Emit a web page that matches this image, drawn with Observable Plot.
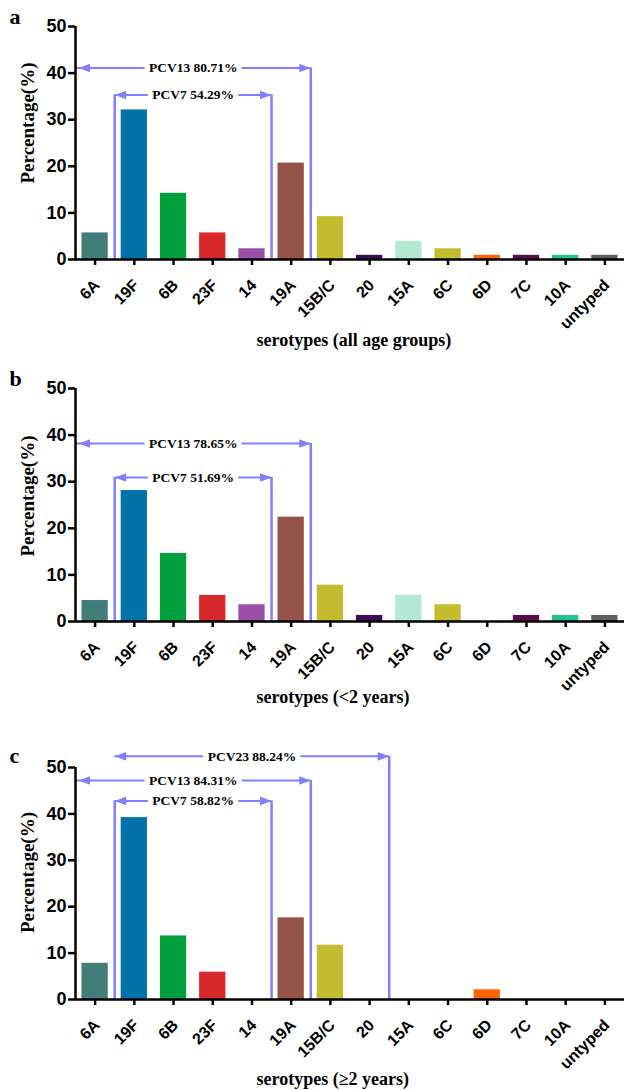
<!DOCTYPE html>
<html><head><meta charset="utf-8">
<script src="https://cdn.jsdelivr.net/npm/d3@7"></script>
<script src="https://cdn.jsdelivr.net/npm/@observablehq/plot@0.6"></script>
<style>body{margin:0;background:#fff} #chart svg{display:block}</style>
</head><body><div id="chart"></div>
<script>
const categories = ["6A","19F","6B","23F","14","19A","15B/C","20","15A","6C","6D","7C","10A","untyped"];
const barColors = ["#427d7a","#0072a9","#00a03e","#d7282b","#9a4fa9","#95534a","#c3bc2e","#3e0a5a","#b4e8d5","#c3bc2e","#ff6400","#5e0a50","#1ec491","#5e5e5e"];
const pctAll    = [5.7, 32.1, 14.2, 5.7, 2.3, 20.7, 9.2, 0.9, 3.9, 2.3, 0.9, 0.9, 0.9, 0.9];
const pctUnder2 = [4.5, 28.1, 14.6, 5.6, 3.6, 22.4, 7.8, 1.3, 5.6, 3.6, 0, 1.3, 1.3, 1.3];
const pctOver2  = [7.8, 39.2, 13.7, 5.9, 0, 17.6, 11.7, 0, 0, 0, 2.1, 0, 0, 0];
const yTicks = [0, 10, 20, 30, 40, 50];

const bracketsAll = [
  {label: "PCV13 80.71%", from: null, to: "19A", level: 41.1},
  {label: "PCV7 54.29%", from: "19F", to: "14", level: 35.3}
];
const bracketsUnder2 = [
  {label: "PCV13 78.65%", from: null, to: "19A", level: 38.2},
  {label: "PCV7 51.69%", from: "19F", to: "14", level: 30.9}
];
const bracketsOver2 = [
  {label: "PCV23 88.24%", from: "19F", to: "20", level: 52.4},
  {label: "PCV13 84.31%", from: null, to: "19A", level: 47.2},
  {label: "PCV7 58.82%", from: "19F", to: "14", level: 42.8}
];

const panels = [
  {letter: "a", values: pctAll, brackets: bracketsAll, xTitle: "serotypes (all age groups)", yTitle: "Percentage(%)",
   height: 360, mt: 26, mb: 101, yTitleDy: -20, letterDy: -3, xTitleDy: 86},
  {letter: "b", values: pctUnder2, brackets: bracketsUnder2, xTitle: "serotypes (<2 years)", yTitle: "Percentage(%)",
   height: 362, mt: 28, mb: 101, yTitleDy: -9, letterDy: -3, xTitleDy: 81},
  {letter: "c", values: pctOver2, brackets: bracketsOver2, xTitle: "serotypes (\u22652 years)", yTitle: "Percentage(%)",
   height: 368, mt: 45, mb: 91, yTitleDy: -11, letterDy: -5, xTitleDy: 85}
];

const serif = "'Times New Roman', 'Liberation Serif', Times, serif";
const sans = "Arial, 'Liberation Sans', Helvetica, sans-serif";
const arrowColor = "#8080ff";
const xDomain = [-0.5, categories.length - 0.5];

const headRight = {draw(ctx) { ctx.moveTo(0, 0); ctx.lineTo(-11.5, -4.3); ctx.lineTo(-11.5, 4.3); ctx.closePath(); }};
const headLeft  = {draw(ctx) { ctx.moveTo(0, 0); ctx.lineTo(11.5, -4.3); ctx.lineTo(11.5, 4.3); ctx.closePath(); }};

function makePanel(p) {
  const bars = categories.map((c, i) => ({cat: c, i, value: p.values[i], color: barColors[i]}));
  const idx = c => categories.indexOf(c);
  const br = p.brackets.map(b => ({...b,
    x1: b.from == null ? xDomain[0] : idx(b.from) - 0.5,
    x2: idx(b.to) + 0.5}));
  const vmap = new Map();
  for (const b of br) {
    for (const x of [b.x1, b.x2]) {
      if (x === xDomain[0]) continue;
      vmap.set(x, Math.min(vmap.has(x) ? vmap.get(x) : Infinity, b.level));
    }
  }
  const verts = [...vmap].map(([x, level]) => ({x, level}));
  const atAxis = br.filter(b => b.x1 === xDomain[0]);
  const inner = br.filter(b => b.x1 !== xDomain[0]);
  const tickIdx = d3.range(categories.length);
  return Plot.plot({
    width: 625, height: p.height, marginTop: p.mt, marginBottom: p.mb, marginLeft: 75, marginRight: 1,
    x: {domain: xDomain, axis: null},
    y: {domain: [0, 50], axis: null},
    color: {type: "identity"},
    style: {fontFamily: sans, fontWeight: "bold", color: "#000", background: "#fff", overflow: "visible"},
    marks: [
      Plot.rectY(bars, {x1: d => d.i - 0.335, x2: d => d.i + 0.335, y: "value", fill: "color"}),
      Plot.ruleX(verts, {x: "x", y1: 0, y2: "level", stroke: arrowColor, strokeWidth: 2.5}),
      Plot.ruleY(br, {y: "level", x1: "x1", x2: "x2", stroke: arrowColor, strokeWidth: 2}),
      Plot.text(br, {x: d => (d.x1 + d.x2) / 2, y: "level", text: "label", fontFamily: serif, fontSize: 13.5,
        fontWeight: "bold", fill: "#000", stroke: "#fff", strokeWidth: 11}),
      Plot.dot(inner, {x: "x1", y: "level", symbol: headLeft, fill: arrowColor}),
      Plot.dot(atAxis, {x: "x1", y: "level", symbol: headLeft, fill: arrowColor, dx: 3}),
      Plot.dot(br, {x: "x2", y: "level", symbol: headRight, fill: arrowColor}),
      Plot.ruleY([0], {stroke: "#000", strokeWidth: 2.5}),
      Plot.ruleX([xDomain[0]], {y1: 0, y2: 50, stroke: "#000", strokeWidth: 2.5}),
      Plot.axisY({ticks: yTicks, tickSize: 7, tickPadding: 2, fontSize: 18, strokeWidth: 2.5, label: null}),
      Plot.axisX({ticks: tickIdx, tickFormat: () => "", tickSize: 6, strokeWidth: 2.5, label: null}),
      Plot.text(tickIdx, {x: d => d, text: d => categories[d], frameAnchor: "bottom", rotate: -45,
        textAnchor: "end", lineAnchor: "middle", dx: 2, dy: 23, fontFamily: sans, fontSize: 16, fontWeight: "bold"}),
      Plot.text([p.xTitle], {frameAnchor: "bottom-left", dx: 181, dy: p.xTitleDy, textAnchor: "start",
        lineAnchor: "bottom", fontFamily: serif, fontSize: 18, fontWeight: "bold"}),
      Plot.text([p.yTitle], {frameAnchor: "left", dx: -48, dy: p.yTitleDy, rotate: -90, textAnchor: "middle",
        lineAnchor: "middle", fontFamily: serif, fontSize: 19, fontWeight: "bold"}),
      Plot.text([p.letter], {frameAnchor: "top-left", dx: -66, dy: p.letterDy, lineAnchor: "bottom",
        textAnchor: "start", fontFamily: serif, fontSize: 22, fontWeight: "bold"})
    ]
  });
}

const root = document.getElementById("chart");
for (const p of panels) root.appendChild(makePanel(p));
</script>
</body></html>
